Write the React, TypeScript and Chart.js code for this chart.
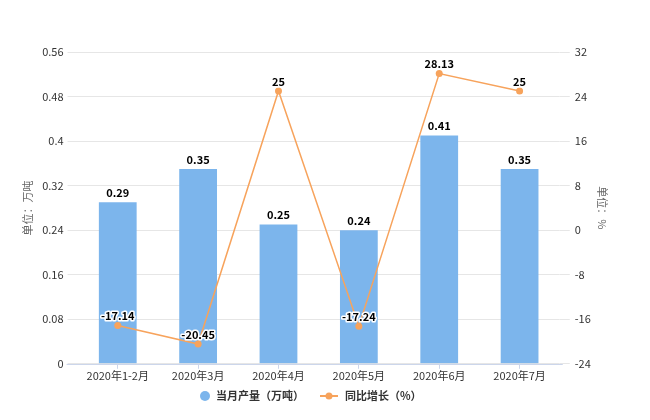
import React, { useEffect, useRef } from "react";
import { Chart, registerables } from "chart.js";

Chart.register(...registerables);

const categories = ["2020年1-2月", "2020年3月", "2020年4月", "2020年5月", "2020年6月", "2020年7月"];
const output = [0.29, 0.35, 0.25, 0.24, 0.41, 0.35];
const growth = [-17.14, -20.45, 25, -17.24, 28.13, 25];
const seriesNames = ["当月产量（万吨）", "同比增长（%）"];

const FONT = '"Microsoft YaHei", "Noto Sans CJK SC", "DejaVu Sans", sans-serif';
const BAR = "#7cb5ec";
const LINE = "#f7a35c";
const GRID = "#e6e6e6";

const labelPlugin = {
  id: "valueLabels",
  afterDatasetsDraw(chart: any) {
    const ctx = chart.ctx;
    ctx.save();
    ctx.font = `bold 11px ${FONT}`;
    ctx.textAlign = "center";
    ctx.textBaseline = "bottom";
    ctx.lineJoin = "round";
    chart.data.datasets.forEach((ds: any, i: number) => {
      const meta = chart.getDatasetMeta(i);
      meta.data.forEach((el: any, j: number) => {
        const txt = String(ds.data[j]);
        ctx.lineWidth = 3;
        ctx.strokeStyle = "#fff";
        ctx.strokeText(txt, el.x, el.y - 4);
        ctx.fillStyle = "#000";
        ctx.fillText(txt, el.x, el.y - 4);
      });
    });
    ctx.restore();
  },
};

// bottom axis line and custom legend
const decorPlugin = {
  id: "decor",
  afterDraw(chart: any) {
    const ctx = chart.ctx;
    const a = chart.chartArea;
    ctx.save();
    ctx.strokeStyle = "#ccd6eb";
    ctx.lineWidth = 1;
    ctx.beginPath();
    ctx.moveTo(a.left - 11, Math.round(a.bottom) + 0.5);
    ctx.lineTo(a.right + 3, Math.round(a.bottom) + 0.5);
    ctx.stroke();

    const y = 396;
    ctx.font = `bold 11px ${FONT}`;
    ctx.textBaseline = "middle";
    ctx.textAlign = "left";
    ctx.fillStyle = BAR;
    ctx.beginPath();
    ctx.arc(205, y, 5, 0, Math.PI * 2);
    ctx.fill();
    ctx.fillStyle = "#333";
    ctx.fillText(seriesNames[0], 216, y);
    const w0 = ctx.measureText(seriesNames[0]).width;
    const lx = 216 + w0 + 16;
    ctx.strokeStyle = LINE;
    ctx.lineWidth = 2;
    ctx.beginPath();
    ctx.moveTo(lx, y);
    ctx.lineTo(lx + 18, y);
    ctx.stroke();
    ctx.fillStyle = LINE;
    ctx.beginPath();
    ctx.arc(lx + 9, y, 3.5, 0, Math.PI * 2);
    ctx.fill();
    ctx.fillStyle = "#333";
    ctx.fillText(seriesNames[1], lx + 25, y);
    ctx.restore();
  },
};

export default function App() {
  const ref = useRef<HTMLCanvasElement>(null);
  useEffect(() => {
    const chart = new Chart(ref.current!, {
      data: {
        labels: categories,
        datasets: [
          {
            type: "bar",
            label: seriesNames[0],
            data: output,
            backgroundColor: BAR,
            borderWidth: 0,
            barPercentage: 0.47,
            categoryPercentage: 1,
            yAxisID: "y",
            order: 2,
          },
          {
            type: "line",
            label: seriesNames[1],
            data: growth,
            borderColor: LINE,
            backgroundColor: LINE,
            borderWidth: 1.5,
            pointRadius: 3.5,
            pointBackgroundColor: LINE,
            pointBorderWidth: 0,
            yAxisID: "y1",
            order: 1,
          },
        ] as any,
      },
      options: {
        responsive: false,
        animation: false,
        layout: { padding: { top: 52, left: 21, right: 31, bottom: 38 } },
        plugins: {
          tooltip: { enabled: false },
          legend: { display: false },
        },
        scales: {
          x: {
            grid: { display: true, drawOnChartArea: false, offset: false, color: "#ccd6eb", tickLength: 5 },
            border: { display: false },
            ticks: { color: "#333", font: { family: FONT, size: 11 }, padding: 0, maxRotation: 0 },
          },
          y: {
            position: "left",
            min: 0,
            max: 0.56,
            ticks: {
              stepSize: 0.08,
              color: "#333",
              font: { family: FONT, size: 11 },
              padding: 4,
              callback: (v: any) => String(Number(Number(v).toFixed(2))),
            },
            grid: { color: GRID, tickColor: GRID, tickLength: 10 },
            border: { display: false },
            title: { display: true, text: "单位：万吨", color: "#666", font: { family: FONT, size: 11 }, padding: { top: 0, bottom: 4 } },
          },
          y1: {
            position: "right",
            min: -24,
            max: 32,
            ticks: { stepSize: 8, color: "#333", font: { family: FONT, size: 11 }, padding: 5 },
            grid: { drawOnChartArea: false, color: GRID, tickColor: GRID, tickLength: 10 },
            border: { display: false },
            title: { display: true, text: "单位：%", color: "#666", font: { family: FONT, size: 11 }, padding: { top: 10, bottom: 0 } },
          },
        },
      } as any,
      plugins: [labelPlugin, decorPlugin],
    });
    return () => chart.destroy();
  }, []);
  return (
    <div style={{ position: "fixed", left: 0, top: 0, width: 650, height: 420, background: "#fff" }}>
      <canvas ref={ref} width={650} height={420} style={{ width: 650, height: 420 }} />
    </div>
  );
}
